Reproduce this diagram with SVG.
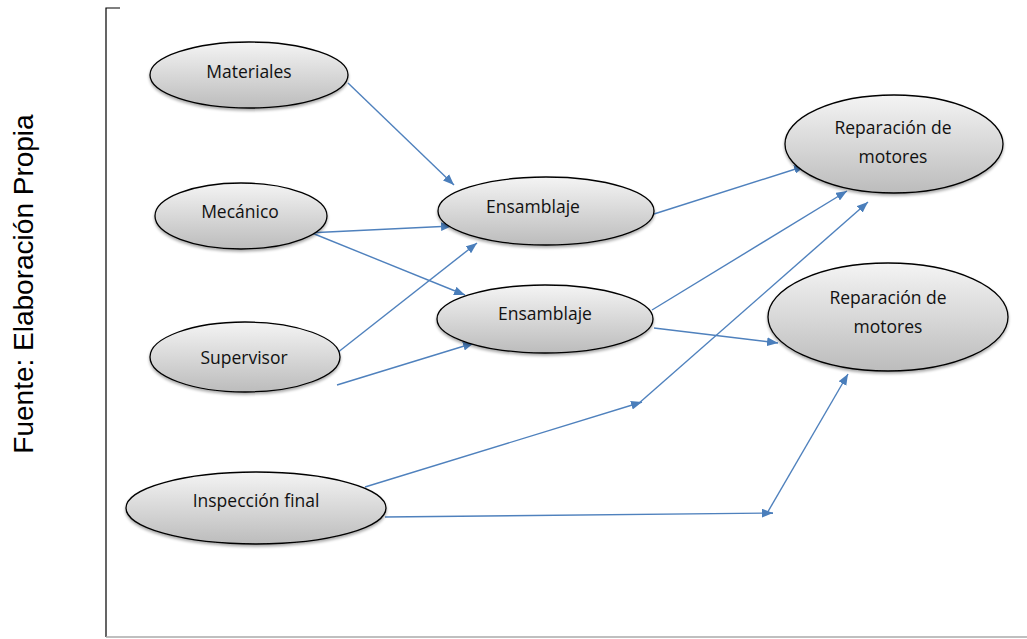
<svg xmlns="http://www.w3.org/2000/svg" width="1027" height="639" viewBox="0 0 1027 639">
<style>
.node ellipse{fill:url(#g);stroke:#000;stroke-width:1.3;filter:url(#sh)}
.node text{font-family:"Open Sans","Noto Sans",sans-serif;font-size:17.5px;fill:#111;text-anchor:middle}
.conn line{stroke:#4f81bd;stroke-width:1.4;fill:none;marker-end:url(#ah)}
.frame{stroke:#000;stroke-width:1.2;fill:none}
</style>
<defs>
<linearGradient id="g" x1="0" y1="0" x2="0" y2="1">
<stop offset="0" stop-color="#f4f4f4"/>
<stop offset="1" stop-color="#bcbcbc"/>
</linearGradient>
<filter id="sh" x="-10%" y="-10%" width="120%" height="130%">
<feGaussianBlur in="SourceAlpha" stdDeviation="1.5"/>
<feOffset dx="0" dy="2" result="b"/>
<feComponentTransfer><feFuncA type="linear" slope="0.35"/></feComponentTransfer>
<feMerge><feMergeNode/><feMergeNode in="SourceGraphic"/></feMerge>
</filter>
<marker id="ah" viewBox="0 0 10 8" refX="10" refY="4" markerWidth="11" markerHeight="9" markerUnits="userSpaceOnUse" orient="auto">
<path d="M0,0 L10,4 L0,8 Z" fill="#4a7ebb"/>
</marker>
</defs>
<rect width="1027" height="639" fill="#fff"/>
<g id="frame">
<polyline class="frame" points="120,8 106,8 106,637"/>
<line x1="106" y1="637" x2="1027" y2="637" stroke="#aaa" stroke-width="1.5"/>
</g>
<text x="33" y="284" transform="rotate(-90 33 284)" font-family="'Liberation Sans',Arial,sans-serif" font-size="28" text-anchor="middle" fill="#000">Fuente: Elaboración  Propia</text>
<g id="connectors" class="conn">
<line x1="348" y1="83" x2="454" y2="185"/>
<line x1="307" y1="233" x2="452" y2="226"/>
<line x1="307" y1="231" x2="465" y2="295"/>
<line x1="337" y1="353" x2="477" y2="243"/>
<line x1="337" y1="385" x2="474" y2="343"/>
<line x1="654" y1="214" x2="805" y2="166"/>
<line x1="652" y1="310" x2="847" y2="191"/>
<line x1="654" y1="328" x2="778" y2="343"/>
<line x1="365" y1="487" x2="642" y2="402"/>
<line x1="638" y1="404" x2="868" y2="202"/>
<line x1="385" y1="517" x2="773" y2="513"/>
<line x1="766" y1="515" x2="848" y2="374"/>
</g>
<g id="materiales" class="node"><ellipse cx="249" cy="75" rx="99" ry="33"/><text x="249" y="78">Materiales</text></g>
<g id="mecanico" class="node"><ellipse cx="241" cy="216" rx="86" ry="33"/><text x="240" y="218">Mecánico</text></g>
<g id="supervisor" class="node"><ellipse cx="245" cy="357" rx="95" ry="35"/><text x="244" y="364">Supervisor</text></g>
<g id="inspeccion" class="node"><ellipse cx="256" cy="508" rx="130" ry="36"/><text x="256" y="507">Inspección final</text></g>
<g id="ensamblaje1" class="node"><ellipse cx="546" cy="211" rx="108" ry="34"/><text x="533" y="213">Ensamblaje</text></g>
<g id="ensamblaje2" class="node"><ellipse cx="545" cy="319" rx="108" ry="34"/><text x="545" y="320">Ensamblaje</text></g>
<g id="reparacion1" class="node"><ellipse cx="894" cy="144" rx="109" ry="49"/><text x="893" y="134">Reparación de</text><text x="893" y="163">motores</text></g>
<g id="reparacion2" class="node"><ellipse cx="888" cy="317" rx="120" ry="54"/><text x="888" y="304">Reparación de</text><text x="888" y="333">motores</text></g>
</svg>
